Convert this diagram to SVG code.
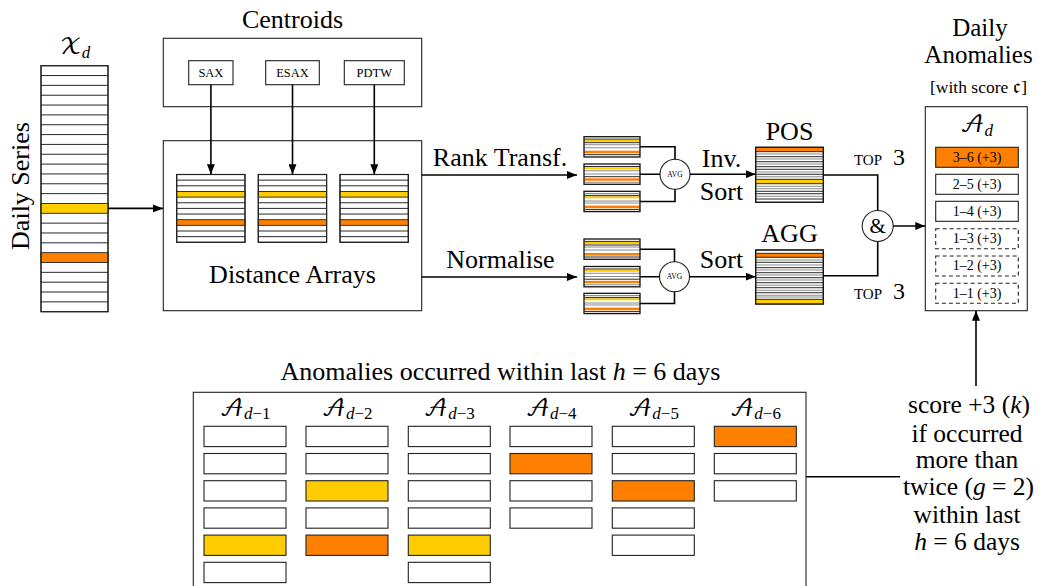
<svg xmlns="http://www.w3.org/2000/svg" xmlns:xlink="http://www.w3.org/1999/xlink" width="1045" height="586" viewBox="0 0 1045 586">
<style>
.box{fill:#fff;stroke:#222;stroke-width:1.1}
.yel{fill:#FFCC00}
.org{fill:#FF8000}
.bl{stroke:#111;stroke-width:0.9}
.gr{stroke:#8a8a8a;stroke-width:1.1}
.ln{fill:none;stroke:#000;stroke-width:1.6}
.dash{stroke-dasharray:4,3}
</style>
<defs>
<marker id="ah" markerWidth="10" markerHeight="8" refX="10" refY="4" orient="auto" markerUnits="userSpaceOnUse">
<path d="M0,0 L10,4 L0,8 z" fill="#000"/>
</marker>
<g id="darr">
<rect x="0" y="0" width="68.3" height="67.8" class="box"/>
<rect x="0" y="16.95" width="68.3" height="5.65" class="yel" stroke="#222" stroke-width="0.9"/>
<rect x="0" y="45.2" width="68.3" height="5.65" class="org" stroke="#222" stroke-width="0.9"/>
<path class="bl" d="M0,5.65H68.3M0,11.3H68.3M0,28.25H68.3M0,33.9H68.3M0,39.55H68.3M0,56.5H68.3M0,62.15H68.3"/>
<rect x="0" y="0" width="68.3" height="67.8" fill="none" stroke="#222" stroke-width="1.1"/>
</g>
<g id="st1">
<rect x="0" y="0" width="56" height="20.3" fill="#fff"/>
<rect x="0" y="3" width="56" height="2.2" class="yel"/>
<rect x="0" y="14" width="56" height="2.6" class="org"/>
<path class="gr" d="M0,8H56M0,11H56"/>
<path class="bl" d="M0,2.4H56M0,6H56M0,18H56"/>
<rect x="0" y="0" width="56" height="20.3" fill="none" stroke="#111" stroke-width="1.3"/>
</g>
<g id="st2">
<rect x="0" y="0" width="56" height="20.3" fill="#fff"/>
<rect x="0" y="3.3" width="56" height="2" class="yel"/>
<rect x="0" y="14.3" width="56" height="2.4" class="org"/>
<path class="gr" d="M0,6.7H56M0,10H56M0,18.3H56"/>
<path class="bl" d="M0,2.5H56M0,12.7H56"/>
<rect x="0" y="0" width="56" height="20.3" fill="none" stroke="#111" stroke-width="1.3"/>
</g>
<g id="st3">
<rect x="0" y="0" width="56" height="20.3" fill="#fff"/>
<rect x="0" y="5" width="56" height="2" class="yel"/>
<rect x="0" y="14.3" width="56" height="2.7" class="org"/>
<path class="gr" d="M0,2.3H56M0,9.7H56M0,11.7H56"/>
<path class="bl" d="M0,4.3H56M0,18.3H56"/>
<rect x="0" y="0" width="56" height="20.3" fill="none" stroke="#111" stroke-width="1.3"/>
</g>
</defs>

<g fill="#000">

<!-- Daily series -->
<g id="daily-series">
<text x="75" y="54" text-anchor="middle" style="font-family:'Liberation Serif',serif"><tspan style="font-family:'DejaVu Math TeX Gyre',serif" font-size="23">𝒳</tspan><tspan font-size="17" font-style="italic" dy="4">d</tspan></text>
<text transform="translate(29,186) rotate(-90)" font-size="26" text-anchor="middle" style="font-family:'Liberation Serif',serif">Daily Series</text>
<rect x="41" y="65.7" width="67" height="246" class="box"/>
<rect x="41" y="203.46" width="67" height="9.84" class="yel" stroke="#222" stroke-width="0.9"/>
<rect x="41" y="252.66" width="67" height="9.84" class="org" stroke="#222" stroke-width="0.9"/>
<path class="bl" d="M41,75.54H108M41,85.38H108M41,95.22H108M41,105.06H108M41,114.9H108M41,124.74H108M41,134.58H108M41,144.42H108M41,154.26H108M41,164.1H108M41,173.94H108M41,183.78H108M41,193.62H108M41,223.14H108M41,232.98H108M41,242.82H108M41,272.34H108M41,282.18H108M41,292.02H108M41,301.86H108"/>
<rect x="41" y="65.7" width="67" height="246" fill="none" stroke="#222" stroke-width="1.1"/>
</g>

<!-- Centroids -->
<g id="centroids">
<text x="292.5" y="28" font-size="26" text-anchor="middle" style="font-family:'Liberation Serif',serif">Centroids</text>
<rect x="163.3" y="38.3" width="258.4" height="68.4" class="box"/>
<rect x="188.7" y="60.7" width="44.3" height="24" class="box"/>
<text x="210.9" y="77" font-size="12.5" text-anchor="middle" style="font-family:'Liberation Serif',serif">SAX</text>
<rect x="265.7" y="60.7" width="53.6" height="24" class="box"/>
<text x="292.5" y="77" font-size="12.5" text-anchor="middle" style="font-family:'Liberation Serif',serif">ESAX</text>
<rect x="344.3" y="60.7" width="60" height="24" class="box"/>
<text x="374.3" y="77" font-size="12.5" text-anchor="middle" style="font-family:'Liberation Serif',serif">PDTW</text>
</g>

<!-- Distance arrays -->
<g id="distance-arrays">
<rect x="163.3" y="140.7" width="258.4" height="170" class="box"/>
<use xlink:href="#darr" href="#darr" x="176.7" y="174.5"/>
<use xlink:href="#darr" href="#darr" x="258.3" y="174.5"/>
<use xlink:href="#darr" href="#darr" x="340" y="174.5"/>
<text x="292.5" y="283" font-size="26" text-anchor="middle" style="font-family:'Liberation Serif',serif">Distance Arrays</text>
</g>

<!-- Rank stacks -->
<g id="rank-stacks">
<use xlink:href="#st1" href="#st1" x="584" y="136.7"/>
<use xlink:href="#st2" href="#st2" x="584" y="164"/>
<use xlink:href="#st3" href="#st3" x="584" y="191.3"/>
</g>
<g id="avg-rank">
<circle cx="675" cy="174.2" r="15" class="box"/>
<text x="675" y="176.8" font-size="7.5" text-anchor="middle" style="font-family:'Liberation Serif',serif">AVG</text>
</g>

<!-- Normalised stacks -->
<g id="norm-stacks">
<use xlink:href="#st1" href="#st1" x="584" y="239"/>
<use xlink:href="#st2" href="#st2" x="584" y="266.5"/>
<use xlink:href="#st3" href="#st3" x="584" y="293.3"/>
</g>
<g id="avg-norm">
<circle cx="674.5" cy="276.7" r="15" class="box"/>
<text x="674.5" y="279.3" font-size="7.5" text-anchor="middle" style="font-family:'Liberation Serif',serif">AVG</text>
</g>

<!-- POS -->
<g id="pos">
<text x="789.5" y="140" font-size="26" text-anchor="middle" style="font-family:'Liberation Serif',serif">POS</text>
<rect x="755.7" y="147.3" width="67.6" height="55" class="box"/>
<rect x="755.7" y="147.3" width="67.6" height="4.4" class="org"/>
<rect x="755.7" y="179.3" width="67.6" height="4.4" class="yel"/>
<path class="bl" d="M755.7,151.7H823.3M755.7,156.7H823.3M755.7,161.7H823.3M755.7,166.7H823.3M755.7,169.3H823.3M755.7,174.3H823.3M755.7,179.3H823.3M755.7,183.7H823.3M755.7,191.3H823.3M755.7,193.7H823.3M755.7,199H823.3"/>
<path class="gr" d="M755.7,154H823.3M755.7,159H823.3M755.7,164H823.3M755.7,172H823.3M755.7,176.7H823.3M755.7,186.3H823.3M755.7,188.7H823.3M755.7,196.3H823.3"/>
<rect x="755.7" y="147.3" width="67.6" height="55" fill="none" stroke="#111" stroke-width="1.2"/>
</g>

<!-- AGG -->
<g id="agg">
<text x="789.5" y="241.7" font-size="26" text-anchor="middle" style="font-family:'Liberation Serif',serif">AGG</text>
<rect x="755.7" y="250" width="67.6" height="54" class="box"/>
<rect x="755.7" y="253.3" width="67.6" height="4" class="org"/>
<rect x="755.7" y="299.3" width="67.6" height="4.2" class="yel"/>
<path class="bl" d="M755.7,253.3H823.3M755.7,257.3H823.3M755.7,262.3H823.3M755.7,267.7H823.3M755.7,272.7H823.3M755.7,277.7H823.3M755.7,282.7H823.3M755.7,287.7H823.3M755.7,292.7H823.3M755.7,299.3H823.3"/>
<path class="gr" d="M755.7,260H823.3M755.7,265H823.3M755.7,270H823.3M755.7,275H823.3M755.7,280H823.3M755.7,285.3H823.3M755.7,290.3H823.3M755.7,295.3H823.3M755.7,297H823.3"/>
<rect x="755.7" y="250" width="67.6" height="54" fill="none" stroke="#111" stroke-width="1.2"/>
</g>

<!-- AND -->
<g id="and">
<circle cx="877.7" cy="226" r="15.5" class="box"/>
<text x="877.7" y="233" font-size="21" text-anchor="middle" style="font-family:'Liberation Serif',serif">&amp;</text>
</g>

<!-- Daily anomalies -->
<g id="daily-anomalies">
<text x="980" y="36" font-size="25" text-anchor="middle" style="font-family:'Liberation Serif',serif">Daily</text>
<text x="978.5" y="63.3" font-size="25" text-anchor="middle" style="font-family:'Liberation Serif',serif">Anomalies</text>
<text x="978.5" y="93.3" font-size="17.5" text-anchor="middle" style="font-family:'Liberation Serif',serif">[with score <tspan style="font-family:'DejaVu Math TeX Gyre',serif">𝔠</tspan>]</text>
<rect x="925.3" y="106.7" width="102" height="204" class="box"/>
<text x="976.5" y="131.5" text-anchor="middle" style="font-family:'Liberation Serif',serif"><tspan style="font-family:'DejaVu Math TeX Gyre',serif" font-size="23">𝒜</tspan><tspan font-size="17" font-style="italic" dy="4">d</tspan></text>
<rect x="935.7" y="147.3" width="82.6" height="20" class="box org"/>
<text x="977" y="161.7" font-size="14" text-anchor="middle" style="font-family:'Liberation Serif',serif">3–6 (+3)</text>
<rect x="935.7" y="174.3" width="82.6" height="20" class="box"/>
<text x="977" y="188.7" font-size="14" text-anchor="middle" style="font-family:'Liberation Serif',serif">2–5 (+3)</text>
<rect x="935.7" y="201.3" width="82.6" height="20" class="box"/>
<text x="977" y="215.7" font-size="14" text-anchor="middle" style="font-family:'Liberation Serif',serif">1–4 (+3)</text>
<rect x="935.7" y="228.7" width="82.6" height="20" class="box dash"/>
<text x="977" y="243.1" font-size="14" text-anchor="middle" style="font-family:'Liberation Serif',serif">1–3 (+3)</text>
<rect x="935.7" y="256" width="82.6" height="20" class="box dash"/>
<text x="977" y="270.4" font-size="14" text-anchor="middle" style="font-family:'Liberation Serif',serif">1–2 (+3)</text>
<rect x="935.7" y="283.3" width="82.6" height="20" class="box dash"/>
<text x="977" y="297.7" font-size="14" text-anchor="middle" style="font-family:'Liberation Serif',serif">1–1 (+3)</text>
</g>

<!-- History -->
<g id="history">
<text x="500.5" y="380" font-size="26" text-anchor="middle" style="font-family:'Liberation Serif',serif">Anomalies occurred within last <tspan font-style="italic">h</tspan> = 6 days</text>
<rect x="193.3" y="392.3" width="612.7" height="220" class="box"/>
<g id="col1">
<text x="245" y="415.5" text-anchor="middle" style="font-family:'Liberation Serif',serif"><tspan style="font-family:'DejaVu Math TeX Gyre',serif" font-size="23">𝒜</tspan><tspan font-size="17" font-style="italic" dy="3">d</tspan><tspan font-size="17">−1</tspan></text>
<rect x="204" y="426.3" width="82" height="20.3" class="box"/>
<rect x="204" y="453.5" width="82" height="20.3" class="box"/>
<rect x="204" y="480.7" width="82" height="20.3" class="box"/>
<rect x="204" y="507.9" width="82" height="20.3" class="box"/>
<rect x="204" y="535.1" width="82" height="20.3" class="box yel"/>
<rect x="204" y="562.3" width="82" height="20.3" class="box"/>
</g>
<g id="col2">
<text x="347" y="415.5" text-anchor="middle" style="font-family:'Liberation Serif',serif"><tspan style="font-family:'DejaVu Math TeX Gyre',serif" font-size="23">𝒜</tspan><tspan font-size="17" font-style="italic" dy="3">d</tspan><tspan font-size="17">−2</tspan></text>
<rect x="306" y="426.3" width="82" height="20.3" class="box"/>
<rect x="306" y="453.5" width="82" height="20.3" class="box"/>
<rect x="306" y="480.7" width="82" height="20.3" class="box yel"/>
<rect x="306" y="507.9" width="82" height="20.3" class="box"/>
<rect x="306" y="535.1" width="82" height="20.3" class="box org"/>
</g>
<g id="col3">
<text x="449.2" y="415.5" text-anchor="middle" style="font-family:'Liberation Serif',serif"><tspan style="font-family:'DejaVu Math TeX Gyre',serif" font-size="23">𝒜</tspan><tspan font-size="17" font-style="italic" dy="3">d</tspan><tspan font-size="17">−3</tspan></text>
<rect x="408.3" y="426.3" width="82" height="20.3" class="box"/>
<rect x="408.3" y="453.5" width="82" height="20.3" class="box"/>
<rect x="408.3" y="480.7" width="82" height="20.3" class="box"/>
<rect x="408.3" y="507.9" width="82" height="20.3" class="box"/>
<rect x="408.3" y="535.1" width="82" height="20.3" class="box yel"/>
<rect x="408.3" y="562.3" width="82" height="20.3" class="box"/>
</g>
<g id="col4">
<text x="551" y="415.5" text-anchor="middle" style="font-family:'Liberation Serif',serif"><tspan style="font-family:'DejaVu Math TeX Gyre',serif" font-size="23">𝒜</tspan><tspan font-size="17" font-style="italic" dy="3">d</tspan><tspan font-size="17">−4</tspan></text>
<rect x="510" y="426.3" width="82" height="20.3" class="box"/>
<rect x="510" y="453.5" width="82" height="20.3" class="box org"/>
<rect x="510" y="480.7" width="82" height="20.3" class="box"/>
<rect x="510" y="507.9" width="82" height="20.3" class="box"/>
</g>
<g id="col5">
<text x="653.3" y="415.5" text-anchor="middle" style="font-family:'Liberation Serif',serif"><tspan style="font-family:'DejaVu Math TeX Gyre',serif" font-size="23">𝒜</tspan><tspan font-size="17" font-style="italic" dy="3">d</tspan><tspan font-size="17">−5</tspan></text>
<rect x="612.3" y="426.3" width="82" height="20.3" class="box"/>
<rect x="612.3" y="453.5" width="82" height="20.3" class="box"/>
<rect x="612.3" y="480.7" width="82" height="20.3" class="box org"/>
<rect x="612.3" y="507.9" width="82" height="20.3" class="box"/>
<rect x="612.3" y="535.1" width="82" height="20.3" class="box"/>
</g>
<g id="col6">
<text x="755.3" y="415.5" text-anchor="middle" style="font-family:'Liberation Serif',serif"><tspan style="font-family:'DejaVu Math TeX Gyre',serif" font-size="23">𝒜</tspan><tspan font-size="17" font-style="italic" dy="3">d</tspan><tspan font-size="17">−6</tspan></text>
<rect x="714.3" y="426.3" width="82" height="20.3" class="box org"/>
<rect x="714.3" y="453.5" width="82" height="20.3" class="box"/>
<rect x="714.3" y="480.7" width="82" height="20.3" class="box"/>
</g>
</g>

<!-- Score rule -->
<g id="score-rule" font-size="25.5" text-anchor="middle">
<text x="969" y="413.3" style="font-family:'Liberation Serif',serif">score +3 (<tspan font-style="italic">k</tspan>)</text>
<text x="967" y="441.7" style="font-family:'Liberation Serif',serif">if occurred</text>
<text x="967" y="468.3" style="font-family:'Liberation Serif',serif">more than</text>
<text x="968.5" y="495" style="font-family:'Liberation Serif',serif">twice (<tspan font-style="italic">g</tspan> = 2)</text>
<text x="967" y="523.3" style="font-family:'Liberation Serif',serif">within last</text>
<text x="967" y="550" style="font-family:'Liberation Serif',serif"><tspan font-style="italic">h</tspan> = 6 days</text>
</g>

<!-- Edge labels -->
<g id="labels">
<text x="500" y="165.5" font-size="26" text-anchor="middle" style="font-family:'Liberation Serif',serif">Rank Transf.</text>
<text x="500.5" y="268" font-size="26" text-anchor="middle" style="font-family:'Liberation Serif',serif">Normalise</text>
<text x="721.5" y="166.5" font-size="26" text-anchor="middle" style="font-family:'Liberation Serif',serif">Inv.</text>
<text x="721.5" y="200" font-size="26" text-anchor="middle" style="font-family:'Liberation Serif',serif">Sort</text>
<text x="721.5" y="268" font-size="26" text-anchor="middle" style="font-family:'Liberation Serif',serif">Sort</text>
<text x="868" y="165" font-size="15" text-anchor="middle" style="font-family:'Liberation Serif',serif">TOP</text>
<text x="893" y="165" font-size="24" style="font-family:'Liberation Serif',serif">3</text>
<text x="868" y="299.3" font-size="15" text-anchor="middle" style="font-family:'Liberation Serif',serif">TOP</text>
<text x="893" y="299.3" font-size="24" style="font-family:'Liberation Serif',serif">3</text>
</g>

</g>

<!-- Connectors -->
<g id="connectors">
<line class="ln" x1="108" y1="208.4" x2="163" y2="208.4" marker-end="url(#ah)"/>
<line class="ln" x1="210.9" y1="84.7" x2="210.9" y2="174.3" marker-end="url(#ah)"/>
<line class="ln" x1="292.5" y1="84.7" x2="292.5" y2="174.3" marker-end="url(#ah)"/>
<line class="ln" x1="374.3" y1="84.7" x2="374.3" y2="174.3" marker-end="url(#ah)"/>
<line class="ln" x1="421.7" y1="175" x2="577" y2="175" marker-end="url(#ah)"/>
<line class="ln" x1="421.7" y1="277" x2="577" y2="277" marker-end="url(#ah)"/>
<path class="ln" d="M640,146.8H675V159.2M640,174.2H660M640,201.5H675V189.2"/>
<line class="ln" x1="690" y1="174.2" x2="755.7" y2="174.2" marker-end="url(#ah)"/>
<path class="ln" d="M640,249.2H674.5V261.7M640,276.7H659.5M640,303.5H674.5V291.7"/>
<line class="ln" x1="689.5" y1="276.7" x2="755.7" y2="276.7" marker-end="url(#ah)"/>
<path class="ln" d="M823.3,175H877.7V210.5M823.3,275.7H877.7V241.5"/>
<line class="ln" x1="893.2" y1="226" x2="925.3" y2="226" marker-end="url(#ah)"/>
<line class="ln" x1="976" y1="386" x2="976" y2="310.7" marker-end="url(#ah)"/>
<line class="ln" x1="806" y1="476.7" x2="900" y2="476.7"/>
</g>
</svg>
